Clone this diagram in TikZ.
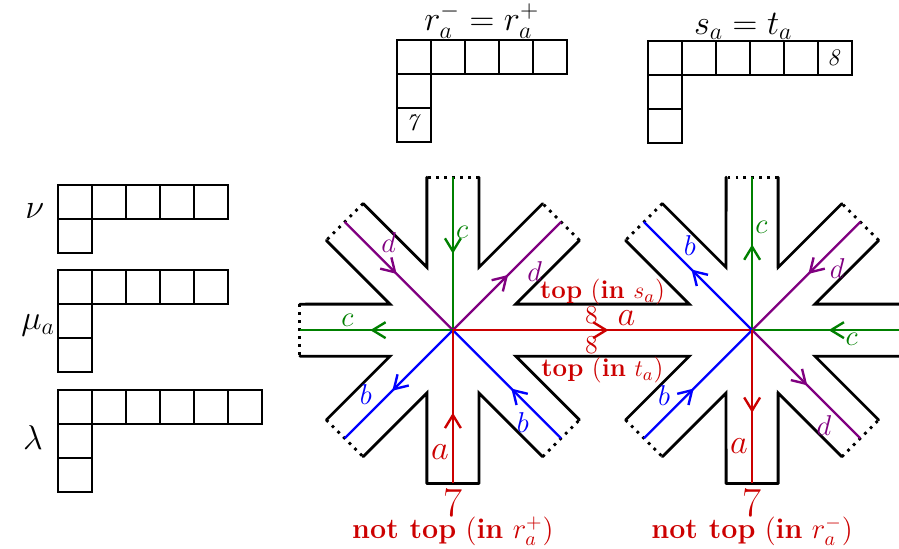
\documentclass[tikz,border=0pt]{standalone}
\usepackage{amsmath,amssymb}
\usepackage{tikz}
\usetikzlibrary{positioning,arrows.meta,calc,decorations.markings}
\usepackage{xcolor}
\definecolor{ared}{RGB}{204,0,0}
\definecolor{bblue}{RGB}{0,0,255}
\definecolor{cgreen}{RGB}{0,128,0}
\definecolor{dpurple}{RGB}{128,0,128}

% young diagram: #1 = top left corner, #2 = row lengths
\newcommand{\youngdiag}[2]{%
  \foreach \rlen [count=\row] in {#2}
    \foreach \col in {1,...,\rlen}
      \draw[cell] ($(#1)+(\col-1,1-\row)$) rectangle ++(1,-1);}
\def\armw{0.765}

\begin{document}
\begin{tikzpicture}[x=0.6cm,y=0.6cm,>={Straight Barb[length=2.3mm,width=2.8mm]},
  cell/.style={line width=0.9pt},
  wall/.style={line width=1.4pt,line cap=round},
  openend/.style={line width=1.4pt,dash pattern=on 1.4pt off 2.6pt},
  strand/.style={line width=1.2pt},
  arrowat/.style={postaction={decorate},decoration={markings,mark=at position #1 with {\arrow{>}}}},
  lab/.style={font=\Large,inner sep=1pt},
  alab/.style={font=\LARGE,inner sep=1.5pt}]
\useasboundingbox (-13.32,-6.41) rectangle (13.12,9.71);

% young diagrams
\coordinate (nu) at (-11.62,4.26);
\coordinate (mu) at (-11.62,1.76);
\coordinate (lam) at (-11.62,-1.76);
\coordinate (r) at (-1.65,8.53);
\coordinate (s) at (5.74,8.5);
\youngdiag{nu}{5,1}
\youngdiag{mu}{5,1,1}
\youngdiag{lam}{6,1,1}
\youngdiag{r}{5,1,1}
\youngdiag{s}{6,1,1}
\node[font=\LARGE] (nulab) at (-12.3,3.5) {$\nu$};
\node[font=\LARGE] (mulab) at (-12.2,0.15) {$\mu_a$};
\node[font=\LARGE] (lamlab) at (-12.35,-3.15) {$\lambda$};
\node[font=\LARGE,above,inner sep=0.5pt] (rlab) at ($(r)+(2.5,0)$) {$r_a^-=r_a^+$};
\node[font=\LARGE,above,inner sep=0.5pt] (slab) at ($(s)+(2.8,0)$) {$s_a=t_a$};
\node[font=\large] (seven) at ($(r)+(0.5,-2.5)$) {$\mathit{7}$};
\node[font=\large] (eight) at ($(s)+(5.5,-0.5)$) {$\mathit{8}$};

% the two stars
\coordinate (L) at (0,0);
\coordinate (R) at (8.8,0);
\foreach \s in {L,R}
  \foreach \t in {0,45,...,315}
    \coordinate (\s\t) at ($(\s)+(\t:4.5)$);

% walls
\foreach \s/\ang in {L/67.5,L/112.5,L/157.5,L/202.5,L/247.5,L/292.5,
                     R/22.5,R/67.5,R/112.5,R/247.5,R/292.5,R/337.5}
  \draw[wall] ($(\s)+(\ang-22.5:4.5)+(\ang+67.5:\armw)$) -- ($(\s)+(\ang:2)$)
    -- ($(\s)+(\ang+22.5:4.5)+(\ang-67.5:\armw)$);
\draw[wall] ($(L45)+(-45:\armw)$) -- ($(L)+(22.5:2)$) -- ($(R)+(157.5:2)$)
  -- ($(R135)+(225:\armw)$);
\draw[wall] ($(L315)+(45:\armw)$) -- ($(L)+(-22.5:2)$) -- ($(R)+(202.5:2)$)
  -- ($(R225)+(135:\armw)$);
\foreach \s/\t in {L/45,L/90,L/135,L/180,L/225,L/315,R/0,R/45,R/90,R/135,R/225,R/315}
  \draw[openend] ($(\s\t)+(\t-90:\armw)$) -- ($(\s\t)+(\t+90:\armw)$);
\foreach \s in {L,R}
  \draw[wall] ($(\s270)+(180:\armw)$) -- ($(\s270)+(0:\armw)$);

% strands, left star
\draw[strand,cgreen,arrowat=0.5] (L90) -- (L) node[lab,pos=0.36,right] (cL1) {$c$};
\draw[strand,dpurple,arrowat=0.48] (L135) -- (L) node[lab,pos=0.31,above right] (dL1) {$d$};
\draw[strand,dpurple,arrowat=0.51] (L) -- (L45) node[lab,pos=0.66,below right] (dL2) {$d$};
\draw[strand,cgreen,arrowat=0.54] (L) -- (L180) node[lab,pos=0.69,above] (cL2) {$c$};
\draw[strand,bblue,arrowat=0.56] (L) -- (L225) node[lab,pos=0.72,above left] (bL1) {$b$};
\draw[strand,bblue,arrowat=0.46] (L315) -- (L) node[lab,pos=0.27,below left] (bL2) {$b$};
\draw[strand,ared,arrowat=0.46] (L270) -- (L) node[alab,pos=0.2,left] (aL) {$a$};
% strand between the stars
\draw[strand,ared,arrowat=0.52] (L) -- (R)
  node[alab,pos=0.58,above] (aM) {$a$}
  node[font=\fontsize{13pt}{15pt}\selectfont,pos=0.463,above,inner sep=2.5pt] (eightT) {8}
  node[font=\fontsize{13pt}{15pt}\selectfont,pos=0.463,below,inner sep=2.5pt] (eightB) {8};
% strands, right star
\draw[strand,cgreen,arrowat=0.56] (R) -- (R90) node[lab,pos=0.67,right] (cR1) {$c$};
\draw[strand,bblue,arrowat=0.56] (R) -- (R135) node[lab,pos=0.66,above right] (bR1) {$b$};
\draw[strand,dpurple,arrowat=0.48] (R45) -- (R) node[lab,pos=0.31,below right] (dR1) {$d$};
\draw[strand,cgreen,arrowat=0.5] (R0) -- (R) node[lab,pos=0.35,below] (cR2) {$c$};
\draw[strand,dpurple,arrowat=0.51] (R) -- (R315) node[lab,pos=0.76,below left] (dR2) {$d$};
\draw[strand,bblue,arrowat=0.46] (R225) -- (R) node[lab,pos=0.27,above left] (bR2) {$b$};
\draw[strand,ared,arrowat=0.54] (R) -- (R270) node[alab,pos=0.76,left] (aR) {$a$};

% red labels
\node[text=ared,font=\fontsize{13pt}{15pt}\selectfont] (topS) at ($(L)!0.5!(R)+(0,1.12)$) {\textbf{top} (\textbf{in} $s_a$)};
\node[text=ared,font=\fontsize{13pt}{15pt}\selectfont] (topT) at ($(L)!0.5!(R)+(0,-1.18)$) {\textbf{top} (\textbf{in} $t_a$)};
\node[text=ared,font=\huge,inner sep=0pt] (sevenL) at ($(L270)+(0,-0.58)$) {7};
\node[text=ared,font=\huge,inner sep=0pt] (sevenR) at ($(R270)+(0,-0.58)$) {7};
\node[text=ared,font=\Large,inner sep=1pt] (ntL) at ($(L270)+(0,-1.42)$) {\textbf{not top} (\textbf{in} $r_a^+$)};
\node[text=ared,font=\Large,inner sep=1pt] (ntR) at ($(R270)+(0,-1.42)$) {\textbf{not top} (\textbf{in} $r_a^-$)};
\end{tikzpicture}
\end{document}
